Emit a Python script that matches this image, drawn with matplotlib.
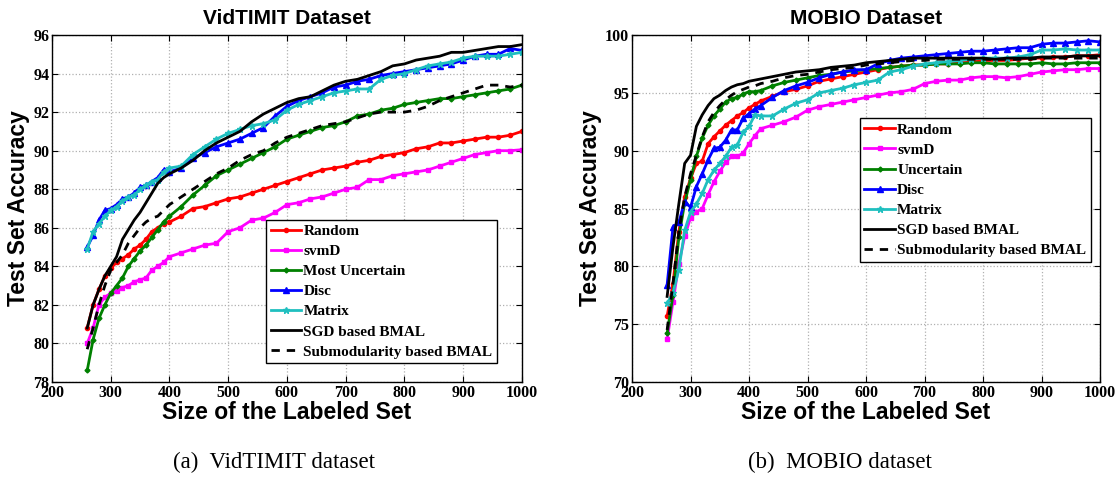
import matplotlib
matplotlib.use("Agg")
import matplotlib.pyplot as plt

# ---- VidTIMIT data ----
x_vid = [260, 270, 280, 290, 300, 310, 320, 330, 340, 350, 360, 370, 380, 390, 400,
         420, 440, 460, 480, 500, 520, 540, 560, 580, 600, 620, 640, 660, 680, 700,
         720, 740, 760, 780, 800, 820, 840, 860, 880, 900, 920, 940, 960, 980, 1000]
vid_random = [80.8, 82.0, 82.8, 83.5, 83.9, 84.2, 84.4, 84.6, 84.9, 85.1, 85.4, 85.8, 86.0, 86.2, 86.3,
              86.6, 87.0, 87.1, 87.3, 87.5, 87.6, 87.8, 88.0, 88.2, 88.4, 88.6, 88.8, 89.0, 89.1, 89.2,
              89.4, 89.5, 89.7, 89.8, 89.9, 90.1, 90.2, 90.4, 90.4, 90.5, 90.6, 90.7, 90.7, 90.8, 91.0]
vid_svmd = [80.0, 80.8, 82.0, 82.4, 82.6, 82.7, 82.9, 83.0, 83.2, 83.3, 83.4, 83.8, 84.0, 84.2, 84.5,
            84.7, 84.9, 85.1, 85.2, 85.8, 86.0, 86.4, 86.5, 86.8, 87.2, 87.3, 87.5, 87.6, 87.8, 88.0,
            88.1, 88.5, 88.5, 88.7, 88.8, 88.9, 89.0, 89.2, 89.4, 89.6, 89.8, 89.9, 90.0, 90.0, 90.05]
vid_uncertain = [78.6, 80.2, 81.3, 82.0, 82.6, 83.0, 83.4, 84.0, 84.4, 84.8, 85.1, 85.5, 85.9, 86.3, 86.6,
                 87.1, 87.7, 88.2, 88.7, 89.0, 89.3, 89.6, 89.9, 90.2, 90.6, 90.8, 91.0, 91.2, 91.3, 91.5,
                 91.8, 91.9, 92.1, 92.2, 92.4, 92.5, 92.6, 92.7, 92.7, 92.8, 92.9, 93.0, 93.1, 93.2, 93.4]
vid_disc = [85.0, 85.6, 86.4, 86.9, 87.0, 87.2, 87.5, 87.6, 87.8, 88.1, 88.2, 88.4, 88.6, 89.0, 88.9,
            89.1, 89.6, 89.9, 90.2, 90.4, 90.6, 90.9, 91.2, 91.8, 92.3, 92.6, 92.8, 93.0, 93.3, 93.4,
            93.6, 93.7, 93.9, 94.0, 94.1, 94.2, 94.3, 94.4, 94.5, 94.7, 94.9, 95.0, 95.0, 95.3, 95.2]
vid_matrix = [84.9, 85.8, 86.2, 86.6, 86.9, 87.1, 87.4, 87.6, 87.7, 88.0, 88.2, 88.4, 88.5, 88.9, 89.1,
              89.2, 89.8, 90.2, 90.6, 90.9, 91.1, 91.3, 91.4, 91.6, 92.1, 92.4, 92.6, 92.8, 93.0, 93.1,
              93.2, 93.2, 93.7, 93.9, 94.0, 94.2, 94.4, 94.5, 94.6, 94.8, 94.9, 94.9, 94.9, 95.0, 95.1]
vid_sgd = [80.8, 82.0, 82.8, 83.5, 84.0, 84.5, 85.4, 85.9, 86.4, 86.8, 87.3, 87.8, 88.3, 88.6, 88.8,
           89.1, 89.5, 90.0, 90.4, 90.7, 91.0, 91.5, 91.9, 92.2, 92.5, 92.7, 92.8, 93.1, 93.4, 93.6,
           93.7, 93.9, 94.1, 94.4, 94.5, 94.7, 94.8, 94.9, 95.1, 95.1, 95.2, 95.3, 95.4, 95.4, 95.5]
vid_submod = [79.7, 80.8, 82.0, 83.0, 83.8, 84.2, 84.6, 85.2, 85.6, 86.0, 86.3, 86.5, 86.6, 86.9, 87.2,
              87.6, 88.0, 88.4, 88.8, 89.1, 89.5, 89.8, 90.0, 90.4, 90.7, 90.9, 91.1, 91.3, 91.4, 91.5,
              91.7, 91.9, 92.0, 92.0, 92.0, 92.1, 92.3, 92.6, 92.8, 93.0, 93.2, 93.4, 93.4, 93.3, 93.4]

# ---- MOBIO data ----
x_mob = [260, 270, 280, 290, 300, 310, 320, 330, 340, 350, 360, 370, 380, 390, 400, 410, 420,
         440, 460, 480, 500, 520, 540, 560, 580, 600, 620, 640, 660, 680, 700,
         720, 740, 760, 780, 800, 820, 840, 860, 880, 900, 920, 940, 960, 980, 1000]
mob_random = [75.7, 78.5, 83.0, 86.0, 87.6, 88.9, 89.1, 90.6, 91.2, 91.7, 92.2, 92.6, 93.0, 93.3, 93.7, 94.0, 94.3,
              94.7, 95.1, 95.3, 95.6, 96.0, 96.2, 96.4, 96.6, 96.8, 97.0, 97.2, 97.3, 97.4, 97.4,
              97.5, 97.5, 97.6, 97.7, 97.8, 97.8, 97.8, 97.9, 98.0, 98.0, 98.1, 98.1, 98.2, 98.2, 98.3]
mob_svmd = [73.7, 76.9, 80.2, 82.6, 84.2, 84.7, 85.0, 86.2, 87.3, 88.2, 89.0, 89.5, 89.5, 89.8, 90.6, 91.3, 91.9,
            92.2, 92.5, 92.9, 93.5, 93.8, 94.0, 94.2, 94.4, 94.6, 94.8, 95.0, 95.1, 95.3, 95.8,
            96.0, 96.1, 96.1, 96.3, 96.4, 96.4, 96.3, 96.4, 96.6, 96.8, 96.9, 97.0, 97.0, 97.1, 97.1]
mob_uncertain = [74.2, 77.5, 82.5, 85.5, 87.5, 89.5, 91.1, 92.2, 93.0, 93.6, 94.2, 94.5, 94.6, 94.9, 95.1, 95.1, 95.2,
                 95.6, 95.9, 96.1, 96.3, 96.5, 96.6, 96.8, 96.9, 97.0, 97.1, 97.2, 97.3, 97.4, 97.4,
                 97.5, 97.5, 97.5, 97.6, 97.6, 97.5, 97.5, 97.5, 97.5, 97.6, 97.5, 97.5, 97.6, 97.6, 97.6]
mob_disc = [78.4, 83.4, 83.8, 85.6, 85.1, 86.9, 88.0, 89.2, 90.2, 90.3, 90.9, 91.8, 91.8, 92.8, 93.2, 93.6, 93.9,
            94.6, 95.2, 95.6, 95.9, 96.3, 96.6, 96.8, 97.0, 97.0, 97.5, 97.8, 98.0, 98.1, 98.2,
            98.3, 98.4, 98.5, 98.6, 98.6, 98.7, 98.8, 98.9, 98.9, 99.2, 99.3, 99.3, 99.4, 99.5, 99.4]
mob_matrix = [76.8, 77.7, 79.7, 83.1, 84.7, 85.4, 86.3, 87.5, 88.3, 88.9, 89.5, 90.3, 90.5, 91.6, 92.1, 93.1, 93.0,
              93.0, 93.6, 94.1, 94.4, 95.0, 95.2, 95.4, 95.7, 95.9, 96.1, 96.8, 97.0, 97.3, 97.5,
              97.6, 97.7, 97.8, 97.9, 98.0, 98.0, 98.0, 98.1, 98.3, 98.7, 98.7, 98.8, 98.7, 98.7, 98.7]
mob_sgd = [77.4, 81.7, 85.4, 88.9, 89.6, 92.1, 93.1, 93.9, 94.5, 94.8, 95.2, 95.5, 95.7, 95.8, 96.0, 96.1, 96.2,
           96.4, 96.6, 96.8, 96.9, 97.0, 97.2, 97.3, 97.4, 97.6, 97.7, 97.8, 97.9, 98.0, 98.0,
           98.0, 98.0, 98.0, 98.0, 98.0, 97.9, 98.0, 98.0, 98.0, 98.1, 98.1, 98.1, 98.2, 98.2, 98.2]
mob_submod = [74.5, 78.5, 83.0, 86.0, 88.0, 89.6, 91.2, 92.5, 93.3, 93.9, 94.4, 94.8, 95.1, 95.3, 95.5, 95.6, 95.8,
              96.0, 96.3, 96.5, 96.6, 96.8, 97.0, 97.1, 97.2, 97.4, 97.5, 97.6, 97.7, 97.8, 97.8,
              97.9, 97.9, 97.9, 97.9, 97.9, 97.9, 97.9, 97.9, 97.9, 98.0, 98.0, 98.0, 98.0, 98.0, 98.0]

serif = ['Liberation Serif', 'DejaVu Serif']
sans = ['Liberation Sans', 'DejaVu Sans']


def draw(ax, x, series, labels, title, yticks):
    styles = [('#ff0000', 'o', 3.0), ('#ff00ff', 's', 3.5), ('#008000', 'D', 2.5),
              ('#0000ff', '^', 4.0), ('#1fbfbf', '*', 4.5)]
    for (c, m, ms), y, lab in zip(styles, series[:5], labels[:5]):
        ax.plot(x, y, color=c, marker=m, ms=ms, lw=2, label=lab)
    ax.plot(x, series[5], color='k', lw=2, label=labels[5])
    ax.plot(x, series[6], color='k', lw=2, ls=(0, (3, 2.5)), label=labels[6])
    ax.set_xlim(200, 1000)
    ax.set_ylim(yticks[0], yticks[-1])
    ax.set_xticks(range(200, 1001, 100))
    ax.set_yticks(yticks)
    ax.grid(True, ls=':', color='#b0b0b0', lw=0.9)
    ax.tick_params(direction='in', top=True, right=True, length=4, pad=2)
    for t in ax.get_xticklabels() + ax.get_yticklabels():
        t.set_family(serif)
        t.set_fontweight('bold')
        t.set_fontsize(11.5)
    ax.set_title(title, family=sans, fontweight='bold', fontsize=15, pad=8)
    ax.set_xlabel('Size of the Labeled Set', family=sans, fontweight='bold', fontsize=16.5, labelpad=0)
    ax.set_ylabel('Test Set Accuracy', family=sans, fontweight='bold', fontsize=16.5, labelpad=2)
    for s in ax.spines.values():
        s.set_linewidth(1.0)


fig = plt.figure(figsize=(11.2, 4.78), dpi=100)
ax1 = fig.add_axes([0.0464, 0.2008, 0.4196, 0.726])
ax2 = fig.add_axes([0.5643, 0.2008, 0.418, 0.726])

labels_vid = ['Random', 'svmD', 'Most Uncertain', 'Disc', 'Matrix',
              'SGD based BMAL', 'Submodularity based BMAL']
labels_mob = ['Random', 'svmD', 'Uncertain', 'Disc', 'Matrix',
              'SGD based BMAL', 'Submodularity based BMAL']

draw(ax1, x_vid, [vid_random, vid_svmd, vid_uncertain, vid_disc, vid_matrix, vid_sgd, vid_submod],
     labels_vid, 'VidTIMIT Dataset', list(range(78, 97, 2)))
draw(ax2, x_mob, [mob_random, mob_svmd, mob_uncertain, mob_disc, mob_matrix, mob_sgd, mob_submod],
     labels_mob, 'MOBIO Dataset', list(range(70, 101, 5)))

legprops = dict(family=serif, weight='bold', size=11)
for ax, anchor in [(ax1, (0.947, 0.054)), (ax2, (0.980, 0.346))]:
    leg = ax.legend(loc='lower right', bbox_to_anchor=anchor, prop=legprops, fancybox=False,
                    edgecolor='k', framealpha=1, borderpad=0.3, labelspacing=0.42,
                    handlelength=2.0, handletextpad=0.15, borderaxespad=0)
    leg.get_frame().set_linewidth(1.0)

fig.text(0.245, 0.033, '(a)  VidTIMIT dataset', family=serif, fontsize=16.5, ha='center', va='center')
fig.text(0.75, 0.033, '(b)  MOBIO dataset', family=serif, fontsize=16.5, ha='center', va='center')

fig.savefig('out.png', dpi=100)
